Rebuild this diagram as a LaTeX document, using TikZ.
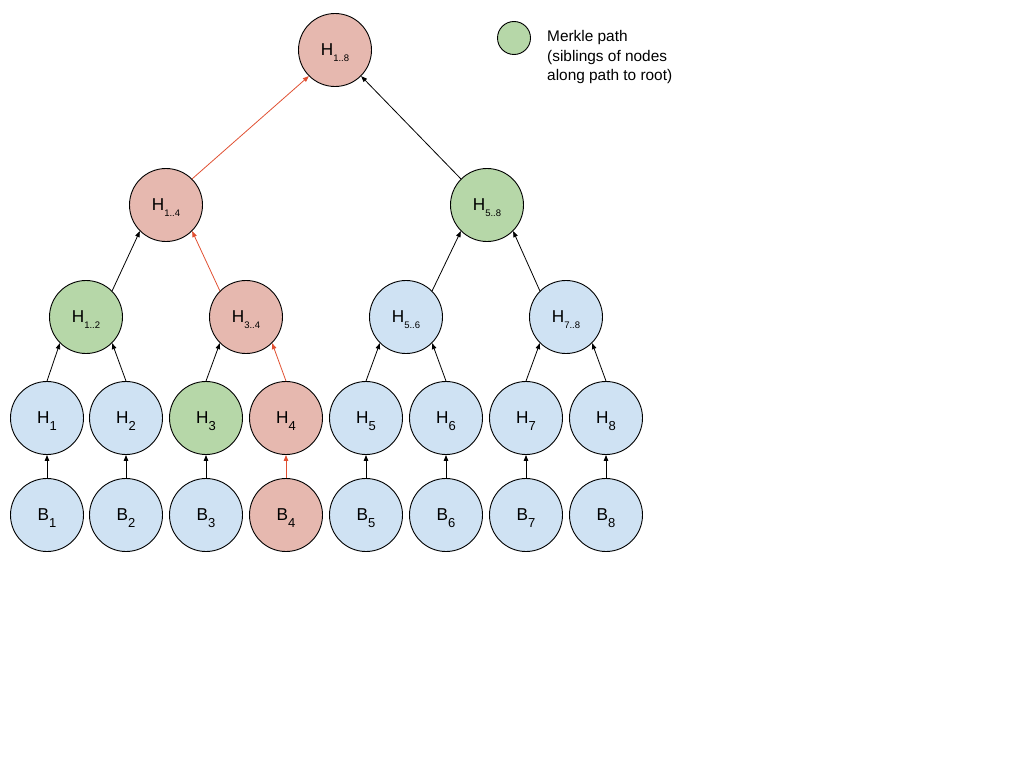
\documentclass[tikz,border=0pt]{standalone}
\usepackage{fontspec}
\setmainfont{Liberation Sans}
\usetikzlibrary{arrows.meta}

\definecolor{leafblue}{RGB}{207,226,243}
\definecolor{pathgreen}{RGB}{182,215,168}
\definecolor{hashred}{RGB}{230,184,175}
\definecolor{arrowred}{RGB}{224,80,50}

% label with a hanging subscript; the subscript is smashed so the H stays centred
\newcommand{\leaflbl}[2]{\fontsize{17.2}{20}\selectfont #1\smash{\raisebox{-6.5pt}{\fontsize{13}{14}\selectfont #2}}}
\newcommand{\innerlbl}[1]{\fontsize{17.2}{20}\selectfont H\smash{\raisebox{-5.5pt}{\fontsize{9.5}{10}\selectfont #1}}}

\tikzset{
  hnode/.style={circle, draw=black, line width=0.9pt, minimum size=73pt, inner sep=0pt},
  blue/.style={hnode, fill=leafblue},
  green/.style={hnode, fill=pathgreen},
  red/.style={hnode, fill=hashred},
  arr/.style={-{Triangle[length=6pt,width=4.5pt]}, line width=0.8pt, black},
  rarr/.style={arr, arrowred},
}

\begin{document}
\begin{tikzpicture}[x=1pt,y=-1pt]
\useasboundingbox (0,0) rectangle (1024,768);

% data blocks
\node[blue] (b1) at (47,515)  {\leaflbl{B}{1}};
\node[blue] (b2) at (126,515) {\leaflbl{B}{2}};
\node[blue] (b3) at (206,515) {\leaflbl{B}{3}};
\node[red]  (b4) at (286,515) {\leaflbl{B}{4}};
\node[blue] (b5) at (366,515) {\leaflbl{B}{5}};
\node[blue] (b6) at (446,515) {\leaflbl{B}{6}};
\node[blue] (b7) at (526,515) {\leaflbl{B}{7}};
\node[blue] (b8) at (606,515) {\leaflbl{B}{8}};

% leaf hashes
\node[blue]  (h1) at (47,418)  {\leaflbl{H}{1}};
\node[blue]  (h2) at (126,418) {\leaflbl{H}{2}};
\node[green] (h3) at (206,418) {\leaflbl{H}{3}};
\node[red]   (h4) at (286,418) {\leaflbl{H}{4}};
\node[blue]  (h5) at (366,418) {\leaflbl{H}{5}};
\node[blue]  (h6) at (446,418) {\leaflbl{H}{6}};
\node[blue]  (h7) at (526,418) {\leaflbl{H}{7}};
\node[blue]  (h8) at (606,418) {\leaflbl{H}{8}};

% inner hashes
\node[green] (h12) at (86,317)  {\innerlbl{1..2}};
\node[red]   (h34) at (246,317) {\innerlbl{3..4}};
\node[blue]  (h56) at (406,317) {\innerlbl{5..6}};
\node[blue]  (h78) at (566,317) {\innerlbl{7..8}};

\node[red]   (h14) at (166,205) {\innerlbl{1..4}};
\node[green] (h58) at (487,205) {\innerlbl{5..8}};

\node[red]   (h18) at (335,50)  {\innerlbl{1..8}};

% blocks to leaf hashes
\draw[arr]  (b1.north) -- (h1.south);
\draw[arr]  (b2.north) -- (h2.south);
\draw[arr]  (b3.north) -- (h3.south);
\draw[rarr] (b4.north) -- (h4.south);
\draw[arr]  (b5.north) -- (h5.south);
\draw[arr]  (b6.north) -- (h6.south);
\draw[arr]  (b7.north) -- (h7.south);
\draw[arr]  (b8.north) -- (h8.south);

% leaf hashes to pair hashes
\draw[arr]  (h1.north) -- (h12.south west);
\draw[arr]  (h2.north) -- (h12.south east);
\draw[arr]  (h3.north) -- (h34.south west);
\draw[rarr] (h4.north) -- (h34.south east);
\draw[arr]  (h5.north) -- (h56.south west);
\draw[arr]  (h6.north) -- (h56.south east);
\draw[arr]  (h7.north) -- (h78.south west);
\draw[arr]  (h8.north) -- (h78.south east);

% pair hashes to half-tree hashes
\draw[arr]  (h12.north east) -- (h14.south west);
\draw[rarr] (h34.north west) -- (h14.south east);
\draw[arr]  (h56.north east) -- (h58.south west);
\draw[arr]  (h78.north west) -- (h58.south east);

% half-tree hashes to root
\draw[rarr] (h14.north east) -- (h18.south west);
\draw[arr]  (h58.north west) -- (h18.south east);

% legend
\node[circle, draw=black, line width=0.9pt, fill=pathgreen, minimum size=33pt, inner sep=0pt] (key) at (514,38) {};
\node[anchor=north west, inner sep=0pt, align=left, font=\fontsize{15.4}{19.5}\selectfont] (keytext) at (547,30.5)
  {Merkle path\\(siblings of nodes\\along path to root)};
\end{tikzpicture}
\end{document}
